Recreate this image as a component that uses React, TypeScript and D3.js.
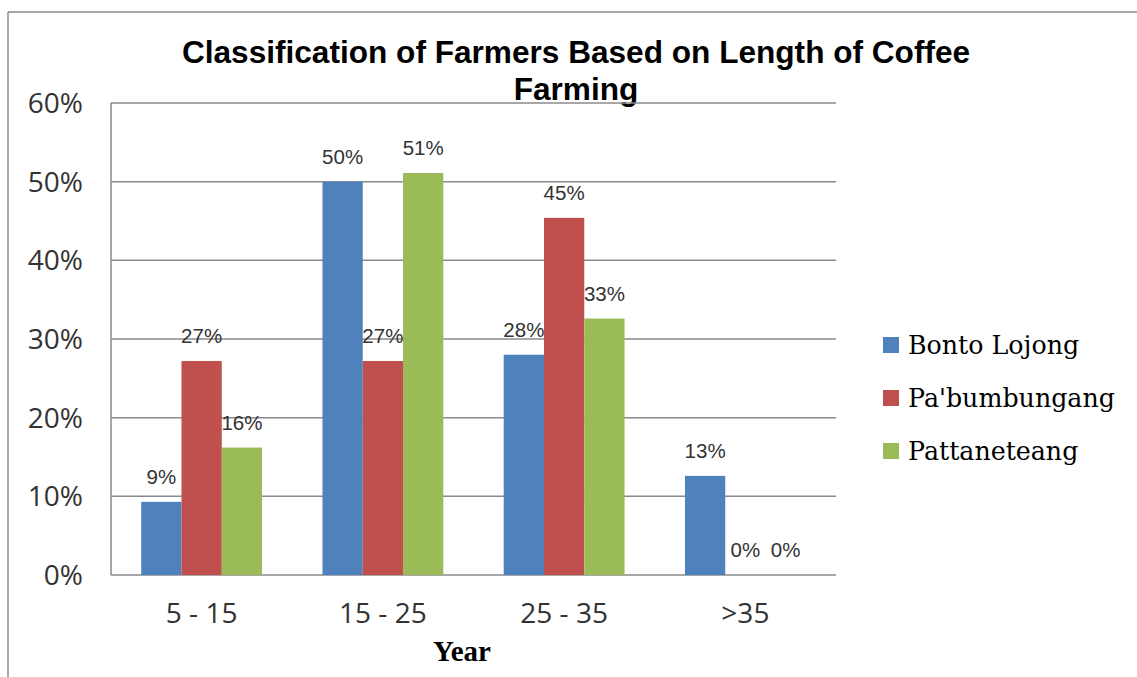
import React from "react";
import * as d3 from "d3";

// Length of coffee farming (years) per village
const categories = ["5 - 15", "15 - 25", "25 - 35", ">35"];
const seriesNames = ["Bonto Lojong", "Pa'bumbungang", "Pattaneteang"];
const bontoLojong = [0.093, 0.5, 0.28, 0.126];
const paBumbungang = [0.272, 0.272, 0.454, 0];
const pattaneteang = [0.162, 0.511, 0.326, 0];
const yTicks = [0, 0.1, 0.2, 0.3, 0.4, 0.5, 0.6];
const seriesColors = ["#4F81BD", "#C0504D", "#9BBB59"];

const W = 1137;
const H = 677;
const plot = { left: 111, right: 836, top: 103, bottom: 575 };

export default function App() {
  const seriesValues = [bontoLojong, paBumbungang, pattaneteang];
  const x0 = d3
    .scaleBand<string>()
    .domain(categories)
    .range([plot.left, plot.right])
    .paddingInner(1 / 3)
    .paddingOuter(1 / 6);
  const x1 = d3
    .scaleBand<string>()
    .domain(seriesNames)
    .range([0, x0.bandwidth()])
    .padding(0);
  const y = d3.scaleLinear().domain([0, 0.6]).range([plot.bottom, plot.top]);
  const pct = d3.format(".0%");

  const sans = "'Liberation Sans', Arial, sans-serif";
  const tickFont = "'Open Sans', 'DejaVu Sans', sans-serif";
  const serif = "'DejaVu Serif', serif";
  const grid = "#8a8a8a";

  return (
    <svg
      width={W}
      height={H}
      viewBox={`0 0 ${W} ${H}`}
      style={{ position: "absolute", left: 0, top: 0, background: "#fff" }}
    >
      {/* chart frame */}
      <line x1={8} x2={8} y1={12} y2={H} stroke={grid} strokeWidth={1.5} />
      <line x1={8} x2={W} y1={12} y2={12} stroke={grid} strokeWidth={1.5} />

      {/* title */}
      <text
        x={576}
        textAnchor="middle"
        fontFamily={sans}
        fontWeight="bold"
        fontSize={31.6}
        fill="#000"
      >
        <tspan x={576} y={63}>Classification of Farmers Based on Length of Coffee</tspan>
        <tspan x={576} y={100}>Farming</tspan>
      </text>

      {/* gridlines and y ticks */}
      {yTicks.map((t) => (
        <g key={t}>
          <line
            x1={plot.left}
            x2={plot.right}
            y1={y(t)}
            y2={y(t)}
            stroke={grid}
            strokeWidth={1.5}
          />
          <text
            x={83}
            y={y(t)}
            dy="0.36em"
            textAnchor="end"
            fontFamily={tickFont}
            fontSize={28}
            fill="#333"
          >
            {pct(t)}
          </text>
        </g>
      ))}
      <line
        x1={plot.left}
        x2={plot.left}
        y1={plot.top}
        y2={plot.bottom}
        stroke={grid}
        strokeWidth={1.5}
      />

      {/* bars */}
      {categories.map((c, ci) => (
        <g key={c} transform={`translate(${x0(c)},0)`}>
          {seriesNames.map((s, si) => {
            const v = seriesValues[si][ci];
            return (
              <rect
                key={s}
                x={x1(s)}
                y={y(v)}
                width={x1.bandwidth()}
                height={y(0) - y(v)}
                fill={seriesColors[si]}
              />
            );
          })}
        </g>
      ))}

      {/* data labels */}
      {categories.map((c, ci) =>
        seriesNames.map((s, si) => {
          const v = seriesValues[si][ci];
          return (
            <text
              key={c + s}
              x={(x0(c) as number) + (x1(s) as number) + x1.bandwidth() / 2}
              y={y(v) - 18}
              textAnchor="middle"
              fontFamily={sans}
              fontSize={20.5}
              fill="#333"
            >
              {pct(v)}
            </text>
          );
        })
      )}

      {/* x axis labels */}
      {categories.map((c) => (
        <text
          key={c}
          x={(x0(c) as number) + x0.bandwidth() / 2}
          y={623}
          textAnchor="middle"
          fontFamily={tickFont}
          fontSize={28}
          fill="#333"
        >
          {c}
        </text>
      ))}
      <text
        x={462}
        y={661}
        textAnchor="middle"
        fontFamily="'Liberation Serif', 'Times New Roman', serif"
        fontWeight="bold"
        fontSize={29}
        fill="#000"
      >
        Year
      </text>

      {/* legend */}
      {seriesNames.map((s, i) => (
        <g key={s} transform={`translate(883,${345 + i * 53})`}>
          <rect x={0} y={-8} width={16} height={16} fill={seriesColors[i]} />
          <text x={25} y={9} fontFamily={serif} fontSize={25.3} fill="#000">
            {s}
          </text>
        </g>
      ))}
    </svg>
  );
}
